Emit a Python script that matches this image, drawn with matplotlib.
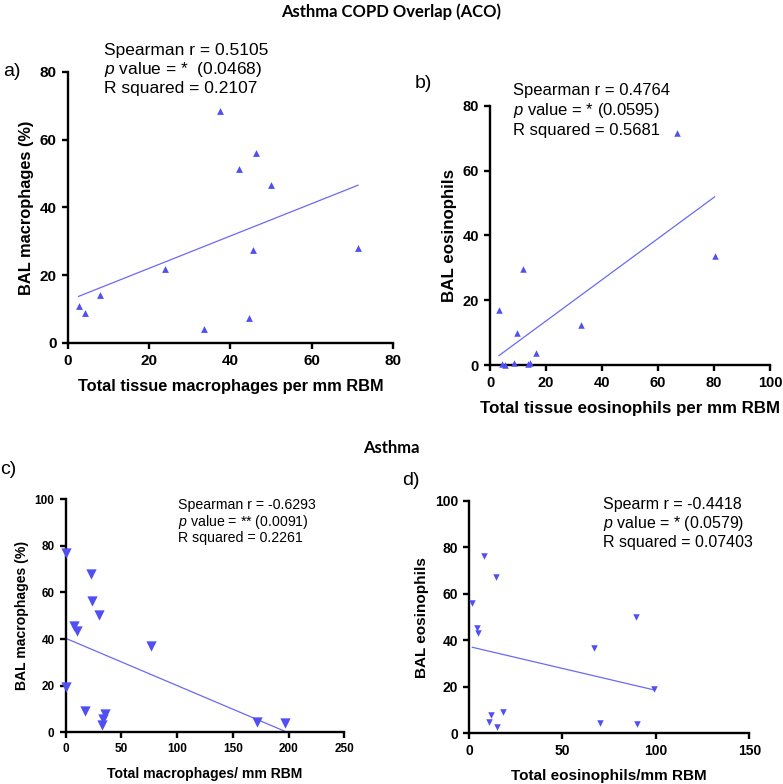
import numpy as np
import matplotlib
matplotlib.use('Agg')
import matplotlib.pyplot as plt

plt.rcParams['font.family'] = ['Liberation Sans', 'DejaVu Sans']

# a) ACO macrophages
a_x = [2.6, 4.1, 7.9, 23.8, 33.4, 37.3, 42.2, 44.6, 45.6, 46.4, 49.9, 71.4]
a_y = [11.0, 8.8, 14.3, 21.9, 4.1, 68.4, 51.3, 7.4, 27.4, 56.1, 46.6, 28.1]
# b) ACO eosinophils
b_x = [3.2, 4.4, 5.4, 8.6, 9.8, 11.7, 13.5, 14.3, 16.3, 32.4, 66.7, 80.2]
b_y = [17.0, 0.3, 0.0, 0.7, 10.0, 29.6, 0.2, 0.5, 3.8, 12.5, 71.7, 33.7]
# c) asthma macrophages
c_x = [0, 0, 7.5, 9.9, 17.3, 22.7, 23.9, 29.9, 32.3, 33.2, 35.3, 76.6, 171.6, 197.1]
c_y = [76.7, 19.3, 45.7, 43.4, 9.3, 67.9, 56.3, 50.3, 3.1, 5.6, 8.0, 37.0, 4.6, 3.9]
# d) asthma eosinophils
d_x = [1.8, 4.1, 5.0, 8.2, 10.5, 11.8, 14.3, 14.8, 18.2, 66.7, 70.1, 89.4, 89.9, 98.8]
d_y = [56.1, 45.5, 43.0, 76.3, 5.0, 7.9, 67.4, 2.7, 9.3, 36.9, 4.6, 50.1, 3.9, 19.2]

stats_a = ['Spearman r = 0.5105', r'$p$ value = *  (0.0468)', 'R squared = 0.2107']
stats_b = ['Spearman r = 0.4764', r'$p$ value = * (0.0595)', 'R squared = 0.5681']
stats_c = ['Spearman r = -0.6293', r'$p$ value = ** (0.0091)', 'R squared = 0.2261']
stats_d = ['Spearm r = -0.4418', r'$p$ value = * (0.0579)', 'R squared = 0.07403']

plt.rcParams['mathtext.fontset'] = 'custom'
plt.rcParams['mathtext.it'] = 'Liberation Sans:italic'

PT = '#4f4ff2'
LN = '#6a6af0'

fig = plt.figure(figsize=(7.83, 7.84), dpi=100)


def panel(rect, x, y, marker, ms, xlim, ylim, xticks, yticks, xlabel, ylabel,
          tick_fs, lab_fs):
    ax = fig.add_axes(rect)
    ax.scatter(x, y, marker=marker, s=ms, color=PT, zorder=3, clip_on=False,
               linewidths=0)
    k, b = np.polyfit(x, y, 1)
    xs = np.array([min(x), max(x)])
    ax.plot(xs, k * xs + b, color=LN, lw=0.9, clip_on=False)
    ax.set_xlim(xlim)
    ax.set_ylim(ylim)
    ax.set_xticks(xticks)
    ax.set_yticks(yticks)
    for s in ['top', 'right']:
        ax.spines[s].set_visible(False)
    for s in ['left', 'bottom']:
        ax.spines[s].set_linewidth(1.7)
    ax.tick_params(width=1.7, length=4.5, labelsize=tick_fs)
    for t in ax.get_xticklabels() + ax.get_yticklabels():
        t.set_fontweight('bold')
    ax.set_xlabel(xlabel, fontsize=lab_fs, fontweight='bold', labelpad=8)
    ax.set_ylabel(ylabel, fontsize=lab_fs, fontweight='bold', labelpad=4)
    return ax


ax_a = panel([0.0868, 0.5625, 0.4151, 0.3457], a_x, a_y, '^', 24,
             (0, 80), (0, 80), range(0, 81, 20), range(0, 81, 20),
             'Total tissue macrophages per mm RBM', 'BAL macrophages (%)', 11, 11.8)
ax_b = panel([0.6258, 0.5344, 0.3576, 0.3307], b_x, b_y, '^', 22,
             (0, 100), (0, 80), range(0, 101, 20), range(0, 81, 20),
             'Total tissue eosinophils per mm RBM', 'BAL eosinophils', 10.5, 12.2)
ax_c = panel([0.0839, 0.0659, 0.3558, 0.2976], c_x, c_y, 'v', 55,
             (0, 250), (0, 100), range(0, 251, 50), range(0, 101, 20),
             'Total macrophages/ mm RBM', 'BAL macrophages (%)', 8.5, 10.1)
ax_d = panel([0.599, 0.0647, 0.358, 0.2963], d_x, d_y, 'v', 22,
             (0, 150), (0, 100), range(0, 151, 50), range(0, 101, 20),
             'Total eosinophils/mm RBM', 'BAL eosinophils', 10, 11)


def stats(lines, x, y, step, fs):
    for i, s in enumerate(lines):
        fig.text(x / 783, 1 - (y + i * step) / 784, s, fontsize=fs, va='center', ha='left')


stats(stats_a, 104, 50, 19.5, 12.5)
stats(stats_b, 513, 90, 20.3, 12)
stats(stats_c, 178, 505, 16.7, 10.2)
stats(stats_d, 603, 505, 18.5, 11.5)

for lab, x, y in [('a)', 3, 72), ('b)', 415, 84), ('c)', 0, 470), ('d)', 402, 481)]:
    fig.text(x / 783, 1 - y / 784, lab, fontsize=14, va='center', ha='left')

fig.text(0.5, 1 - 12 / 784, 'Asthma COPD Overlap (ACO)', fontsize=12, fontweight='bold',
         ha='center', va='center', family=['Lato', 'DejaVu Sans'])
fig.text(0.5, 1 - 448 / 784, 'Asthma', fontsize=12, fontweight='bold',
         ha='center', va='center', family=['Lato', 'DejaVu Sans'])

fig.savefig('out.png', dpi=100)
